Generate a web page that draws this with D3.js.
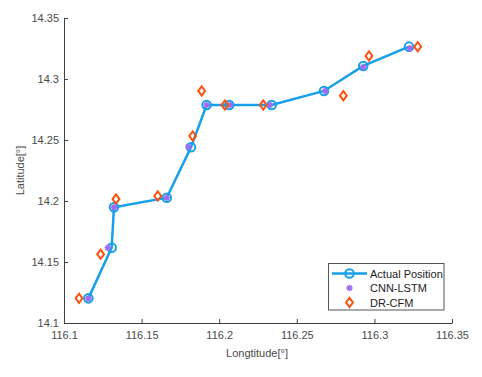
<!DOCTYPE html>
<html><head><meta charset="utf-8">
<script src="https://cdn.jsdelivr.net/npm/d3@7"></script>
<style>body{margin:0;background:#fff;} text{font-family:"Liberation Sans",Arial,sans-serif;}</style>
</head><body><svg id="c" width="482" height="377"></svg>
<script>
const actualLon = [116.1157,116.1307,116.1322,116.1662,116.1818,116.1919,116.2065,116.2338,116.2675,116.2928,116.3223];
const actualLat = [14.1202,14.1617,14.1948,14.2027,14.2440,14.2787,14.2787,14.2787,14.2902,14.3107,14.3265];
const cnnLon = [116.1157,116.1282,116.1322,116.1662,116.1801,116.1919,116.2070,116.2327,116.2682,116.2928,116.3229];
const cnnLat = [14.1202,14.1617,14.1948,14.2027,14.2445,14.2787,14.2787,14.2787,14.2902,14.3098,14.3252];
const drLon = [116.1097,116.1236,116.1335,116.1604,116.1829,116.1887,116.2037,116.2284,116.2800,116.2965,116.3279];
const drLat = [14.1202,14.1563,14.2016,14.2041,14.2533,14.2902,14.2787,14.2787,14.2863,14.3189,14.3265];
const xTicks = [116.1,116.15,116.2,116.25,116.3,116.35];
const yTicks = [14.1,14.15,14.2,14.25,14.3,14.35];
const seriesNames = ["Actual Position","CNN-LSTM","DR-CFM"];

const svg = d3.select("#c");
const L=64,R=452,T=18,B=323;
const x = d3.scaleLinear().domain([116.1,116.35]).range([L,R]);
const y = d3.scaleLinear().domain([14.1,14.35]).range([B,T]);
const axCol="#404040", txtCol="#4a4a4a";
const blue="#16a0ea", purple="#a06cf0", orange="#fb5210";

const gx = svg.append("g").attr("transform",`translate(0,${B})`)
  .call(d3.axisBottom(x).tickValues(xTicks).tickFormat(d=>String(+d.toFixed(2))).tickSizeInner(-4).tickSizeOuter(0).tickPadding(8));
const gy = svg.append("g").attr("transform",`translate(${L},0)`)
  .call(d3.axisLeft(y).tickValues(yTicks).tickFormat(d=>String(+d.toFixed(2))).tickSizeInner(-4).tickSizeOuter(0).tickPadding(5));
[gx,gy].forEach(g=>{
  g.select(".domain").attr("stroke",axCol).attr("stroke-width",1);
  g.selectAll(".tick line").attr("stroke",axCol);
  g.selectAll(".tick text").attr("fill",txtCol).attr("font-size",11).attr("font-family","Liberation Sans,Arial,sans-serif");
});

svg.append("text").attr("x",257).attr("y",357).attr("text-anchor","middle").attr("font-size",11).attr("fill",txtCol).text("Longtitude[°]");
svg.append("text").attr("transform",`translate(24,${(T+B)/2}) rotate(-90)`).attr("text-anchor","middle").attr("font-size",11).attr("fill",txtCol).text("Latitude[°]");

const actual = actualLon.map((d,i)=>[d,actualLat[i]]);
svg.append("path").datum(actual).attr("fill","none").attr("stroke",blue).attr("stroke-width",2.5)
  .attr("d",d3.line().x(d=>x(d[0])).y(d=>y(d[1])));
svg.selectAll(".ac").data(actual).enter().append("circle")
  .attr("cx",d=>x(d[0])).attr("cy",d=>y(d[1])).attr("r",4.3).attr("fill","none").attr("stroke",blue).attr("stroke-width",2);

function asterisk(g,cx,cy,s){
  const p=[];
  for(let k=0;k<4;k++){const a=k*Math.PI/4;p.push(`M${cx-s*Math.cos(a)},${cy-s*Math.sin(a)}L${cx+s*Math.cos(a)},${cy+s*Math.sin(a)}`);}
  g.append("path").attr("d",p.join("")).attr("stroke",purple).attr("stroke-width",1.6).attr("fill","none");
}
const cnn = cnnLon.map((d,i)=>[d,cnnLat[i]]);
const gc = svg.append("g");
cnn.forEach(d=>asterisk(gc,x(d[0]),y(d[1]),3.2));

const dr = drLon.map((d,i)=>[d,drLat[i]]);
const diamond = (cx,cy,s)=>`M${cx},${cy-s}L${cx+s*0.75},${cy}L${cx},${cy+s}L${cx-s*0.75},${cy}Z`;
svg.selectAll(".dr").data(dr).enter().append("path")
  .attr("d",d=>diamond(x(d[0]),y(d[1]),4.6)).attr("fill","none").attr("stroke",orange).attr("stroke-width",2);

// legend
const lg = svg.append("g");
lg.append("rect").attr("x",328.5).attr("y",263.5).attr("width",115.5).attr("height",46.5).attr("fill","#fff").attr("stroke","#555").attr("stroke-width",1);
const rows=[273.5,288,302.5];
lg.append("line").attr("x1",332).attr("x2",367).attr("y1",rows[0]).attr("y2",rows[0]).attr("stroke",blue).attr("stroke-width",2.5);
lg.append("circle").attr("cx",349.5).attr("cy",rows[0]).attr("r",4.3).attr("fill","none").attr("stroke",blue).attr("stroke-width",2);
asterisk(lg,349.5,rows[1],3.2);
lg.append("path").attr("d",diamond(349.5,rows[2],4.6)).attr("fill","none").attr("stroke",orange).attr("stroke-width",2);
seriesNames.forEach((n,i)=>lg.append("text").attr("x",370).attr("y",rows[i]+4).attr("font-size",11).attr("fill","#222").text(n));
</script></body></html>
